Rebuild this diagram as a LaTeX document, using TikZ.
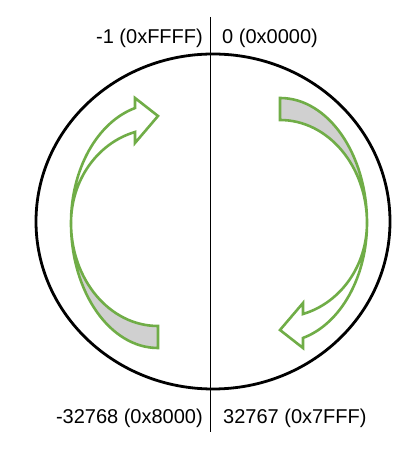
\documentclass[tikz,border=0pt]{standalone}
\usepackage{fontspec}
\setmainfont{Liberation Sans}
\usepackage{tikz}
\definecolor{arrowgreen}{RGB}{112,173,71}
\definecolor{backgray}{RGB}{208,208,208}
\tikzset{wrapline/.style={draw=arrowgreen, line width=2.6pt, line join=miter}}
\tikzset{numlabel/.style={inner sep=0pt, font=\fontsize{20}{24}\selectfont}}

\begin{document}
\begin{tikzpicture}[x=1pt,y=1pt]
        \useasboundingbox (0,0) rectangle (413,449);
        \draw [line width=2.8pt] (213,227.5) ellipse [x radius=177, y radius=167.5];
        \coordinate (axistop) at (210.5,432);
        \coordinate (axisbot) at (210.5,17);
        \draw [line width=1.2pt] (axistop) -- (axisbot);
        \node [numlabel, anchor=base east] (lblneg) at (203,405.7) {-1 (0xFFFF)};
        \node [numlabel, anchor=base west] (lblzero) at (222,405.7) {0 (0x0000)};
        \node [numlabel, anchor=base east] (lblmin) at (203,25.7) {-32768 (0x8000)};
        \node [numlabel, anchor=base west] (lblmax) at (223,25.7) {32767 (0x7FFF)};
        \foreach \turn in {0,180} {
            \begin{scope}[rotate around={\turn:(219,226)}]
                % back of the arrow
                \draw [wrapline, fill=backgray] (71,226) arc [start angle=180, end angle=270, x radius=87, y radius=125]
                    -- (158,123) arc [start angle=270, end angle=180, x radius=87, y radius=103] -- cycle;
                % front with the head
                \draw [wrapline, fill=white] (71,226) arc [start angle=180, end angle=105.33, x radius=87, y radius=119.2]
                    -- (135,351) -- (158,333) -- (135,306) -- (135,317)
                    arc [start angle=105.33, end angle=180, x radius=87, y radius=94.4] -- cycle;
            \end{scope}
        }
    \end{tikzpicture}
\end{document}
